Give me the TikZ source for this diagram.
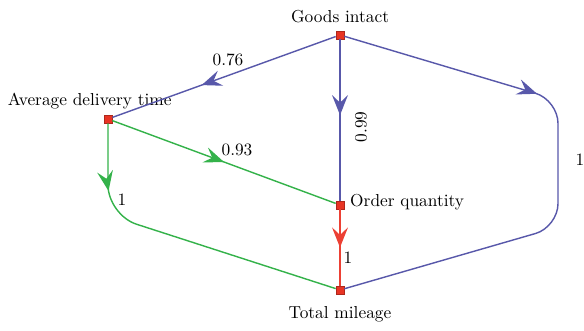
\documentclass[tikz,border=0pt]{standalone}
\usepackage{xcolor}
\usetikzlibrary{
	arrows.meta,
	decorations.markings
}
\definecolor{EdgeBlue}{RGB}{88,88,170}
\definecolor{EdgeGreen}{RGB}{52,178,74}
\definecolor{EdgeRed}{RGB}{236,64,52}
\definecolor{BoxRed}{RGB}{232,52,36}

\tikzset{
	factor/.style={draw=BoxRed!75!black, fill=BoxRed, minimum size=4.8pt, inner sep=0pt},
	midarrow/.style={postaction={decorate, decoration={markings,
		mark=at position #1 with {\arrow{Stealth[length=12pt,width=9.5pt,inset=4.5pt]}}}}},
	blueedge/.style={EdgeBlue, line width=0.85pt},
	greenedge/.style={EdgeGreen, line width=0.85pt},
	rededge/.style={EdgeRed, line width=1.3pt},
}

\begin{document}
\begin{tikzpicture}[x=0.6pt, y=-0.6pt, every node/.style={font=\fontsize{10.4}{12}\selectfont}]
			\useasboundingbox (0,0) rectangle (584,330);
			% factors
			\node[factor, label={[label distance=1pt]above:Goods intact}] (goods) at (340,35) {};
			\node[factor, label={[label distance=0pt, xshift=-11pt]above:Average delivery time}] (avg) at (108,119) {};
			\node[factor, label={[label distance=0pt, yshift=2pt]right:Order quantity}] (order) at (340,205) {};
			\node[factor, label={[label distance=4pt]below:Total mileage}] (total) at (340,290) {};
			% edges
			\draw[blueedge, midarrow=0.6] (goods) -- (avg);
			\draw[blueedge, line width=1.3pt, midarrow=0.47] (goods) -- (order);
			\draw[blueedge, rounded corners=14pt, midarrow=0.36] (goods) -- (558,100) -- (558,227) -- (total);
			\draw[greenedge, midarrow=0.5] (avg) -- (order);
			\draw[greenedge, rounded corners=18pt, midarrow=0.21] (avg) -- (108,215) -- (total);
			\draw[rededge, midarrow=0.5] (order) -- (total);
			% weights
			\node at (228,60) {0.76};
			\node[rotate=90] at (361,127) {0.99};
			\node at (237,150) {0.93};
			\node at (122,200) {1};
			\node at (348,258) {1};
			\node at (580,160) {1};
		\end{tikzpicture}
\end{document}
